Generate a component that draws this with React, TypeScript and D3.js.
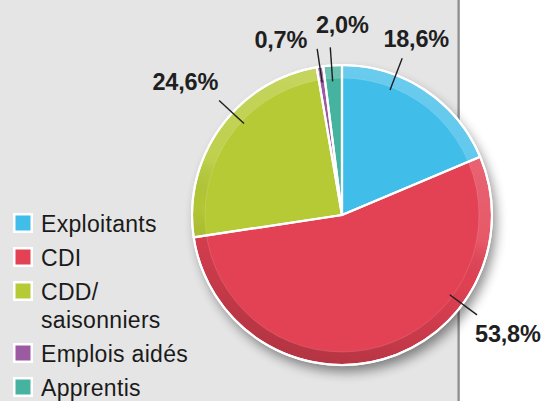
import React from 'react';
import * as d3 from 'd3';

const categories = ['Exploitants', 'CDI', 'CDD/ saisonniers', 'Emplois aidés', 'Apprentis'];
const values = [18.6, 53.8, 24.6, 0.7, 2.0];
const valueLabels = ['18,6%', '53,8%', '24,6%', '0,7%', '2,0%'];
const colors = ['#41bde9', '#e34254', '#b6ca36', '#9b5aa1', '#45b3a0'];
const legendLines = [['Exploitants'], ['CDI'], ['CDD/', 'saisonniers'], ['Emplois aidés'], ['Apprentis']];

// label layout (leader angle in degrees clockwise from 12 o'clock, text offset from leader end)
const labelAngles = [21, 126.5, 313, 351.5, 356];
const labelOffsets: [number, number, string][] = [
  [14, -11, 'middle'],
  [-2, 27, 'start'],
  [-1, -10, 'end'],
  [-10, -1, 'end'],
  [12, -14, 'middle'],
];

const W = 545;
const H = 401;
const cx = 342;
const cy = 215;
const R = 150;
const ringR = 137;

export default function App() {
  const pie = d3.pie<number>().sort(null).value((d) => d);
  const arcs = pie(values);
  const arc = d3.arc<d3.PieArcDatum<number>>().innerRadius(0).outerRadius(R);
  const ring = d3.arc()({ innerRadius: ringR, outerRadius: R, startAngle: 0, endAngle: Math.PI * 2 }) as string;
  const rad = d3.scaleLinear().domain([0, 360]).range([0, Math.PI * 2]);
  const pt = (deg: number, r: number): [number, number] => {
    const a = rad(deg);
    return [cx + r * Math.sin(a), cy - r * Math.cos(a)];
  };

  let baseline = 232;
  const legendRows = legendLines.map((lines, i) => {
    const y = baseline;
    baseline += 34 + (lines.length - 1) * 28;
    return { lines, y, color: colors[i], key: categories[i] };
  });

  const font = '"Liberation Sans", Arial, Helvetica, sans-serif';

  return (
    <svg width={W} height={H} style={{ position: 'fixed', left: 0, top: 0 }} fontFamily={font}>
      <defs>
        <linearGradient id="ringGrad" x1="0.65" y1="0" x2="0.35" y2="1">
          <stop offset="0" stopColor="#ffffff" stopOpacity={0.22} />
          <stop offset="0.45" stopColor="#ffffff" stopOpacity={0.12} />
          <stop offset="0.6" stopColor="#000000" stopOpacity={0.02} />
          <stop offset="1" stopColor="#000000" stopOpacity={0.22} />
        </linearGradient>
        <filter id="shadow" x="-30%" y="-30%" width="160%" height="160%">
          <feGaussianBlur stdDeviation="6" />
        </filter>
        <linearGradient id="divider" x1="0" y1="0" x2="1" y2="0">
          <stop offset="0" stopColor="#c8c8c8" />
          <stop offset="0.5" stopColor="#8f8f8f" />
          <stop offset="1" stopColor="#b0b0b0" />
        </linearGradient>
      </defs>
      <rect x={0} y={0} width={W} height={H} fill="#ffffff" />
      <rect x={0} y={0} width={457} height={H} fill="#e5e5e5" />
      <rect x={457} y={0} width={3} height={H} fill="url(#divider)" />

      <circle cx={cx + 4} cy={cy + 7} r={R} fill="#000" opacity={0.45} filter="url(#shadow)" />

      <g transform={`translate(${cx},${cy})`}>
        {arcs.map((a, i) => (
          <path key={'f' + i} d={arc(a) as string} fill={colors[i]} />
        ))}
        <path d={ring} fill="url(#ringGrad)" />
        <circle r={ringR} fill="none" stroke="#ffffff" strokeOpacity={0.12} strokeWidth={1} />
        {arcs.map((a, i) => (
          <path key={'s' + i} d={arc(a) as string} fill="none" stroke="#ffffff" strokeWidth={2.2} strokeLinejoin="round" />
        ))}
        <circle r={R} fill="none" stroke="#ffffff" strokeWidth={2} />
      </g>

      {valueLabels.map((lab, i) => {
        const [x1, y1] = pt(labelAngles[i], 134);
        const [x2, y2] = pt(labelAngles[i], 168);
        const [dx, dy, anchor] = labelOffsets[i];
        return (
          <g key={'l' + i}>
            <line x1={x1} y1={y1} x2={x2} y2={y2} stroke="#1e1e1e" strokeWidth={1.4} />
            <text x={x2 + dx} y={y2 + dy} textAnchor={anchor as any} fontSize={23.5} fontWeight="bold" fill="#1f1f1f" letterSpacing={-0.2}>
              {lab}
            </text>
          </g>
        );
      })}

      {legendRows.map((row) => (
        <g key={row.key}>
          <rect x={14.25} y={row.y - 19 + 1.25} width={17.5} height={17.5} fill={row.color} stroke="#ffffff" strokeWidth={2.5} />
          {row.lines.map((ln, j) => (
            <text key={j} x={41} y={row.y + j * 28} fontSize={23} fill="#1a1a1a" letterSpacing={0.3}>
              {ln}
            </text>
          ))}
        </g>
      ))}
    </svg>
  );
}
